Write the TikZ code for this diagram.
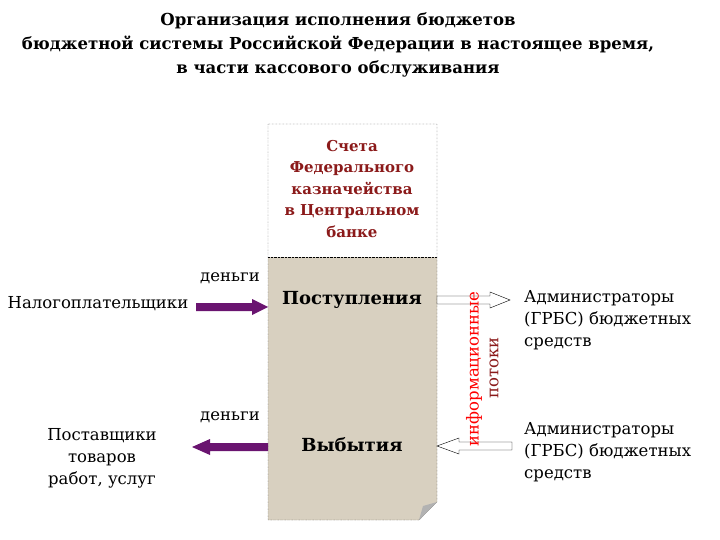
\documentclass[tikz,border=0pt]{standalone}
\usepackage{fontspec}
\setmainfont{DejaVu Serif}
\definecolor{dred}{HTML}{8B1A1A}
\definecolor{canvas}{HTML}{D8D0C0}
\definecolor{purp}{HTML}{6A1470}
\begin{document}
\begin{tikzpicture}[x=1pt,y=-1pt,
  lbl/.style={font=\fontsize{16.5}{22}\selectfont,align=center},
  boxt/.style={font=\bfseries\fontsize{18}{22}\selectfont,align=center},
]
\useasboundingbox (0,0) rectangle (720,540);
\node[font=\bfseries\fontsize{16.5}{24}\selectfont,align=center] (title) at (338,45) {Организация исполнения бюджетов\\бюджетной системы Российской Федерации в настоящее время,\\в части кассового обслуживания};
% box
\fill[canvas] (268,257) -- (437,257) -- (437,502) -- (419,520) -- (268,520) -- cycle;
\draw[densely dotted] (268,124) -- (437,124) -- (437,502) -- (419,520) -- (268,520) -- cycle;
\draw[densely dotted] (268,257) -- (437,257);
\fill[gray!60] (419,520) -- (423,506) -- (437,502) -- cycle;
\node[boxt,text=dred,font=\bfseries\fontsize{15}{21.5}\selectfont] (acc) at (352,189) {Счета\\Федерального\\казначейства\\в Центральном\\банке};
\node[boxt] (in) at (352,300) {Поступления};
\node[boxt] (out) at (352,445) {Выбытия};
% left
\node[lbl] (tax) at (98,304) {Налогоплательщики};
\node[lbl] (sup) at (102,458) {Поставщики\\товаров\\работ, услуг};
\node[lbl] (m1) at (230,278) {деньги};
\node[lbl] (m2) at (230,417) {деньги};
\fill[purp] (196,303) -- (252,303) -- (252,299) -- (268,307) -- (252,315) -- (252,311) -- (196,311) -- cycle;
\fill[purp] (268,443) -- (210,443) -- (210,439) -- (192,447) -- (210,455) -- (210,451) -- (268,451) -- cycle;
% right
\node[lbl,align=left,anchor=west,inner sep=0pt] (adm1) at (524,320) {Администраторы\\(ГРБС) бюджетных\\средств};
\node[lbl,align=left,anchor=west,inner sep=0pt] (adm2) at (524,452) {Администраторы\\(ГРБС) бюджетных\\средств};
\draw[fill=white] (437,296) -- (490,296) -- (490,292) -- (510,300) -- (490,308) -- (490,304) -- (437,304) -- cycle;
\draw[fill=white] (512,442) -- (459,442) -- (459,438) -- (437,446) -- (459,454) -- (459,450) -- (512,450) -- cycle;
\node[font=\fontsize{16.5}{17}\selectfont,text=red,rotate=90,inner sep=1pt] (inf) at (474,369) {информационные};
\node[font=\fontsize{16.5}{17}\selectfont,text=dred,rotate=90,fill=white,inner sep=1pt] (pot) at (494,368) {потоки};
\end{tikzpicture}
\end{document}
